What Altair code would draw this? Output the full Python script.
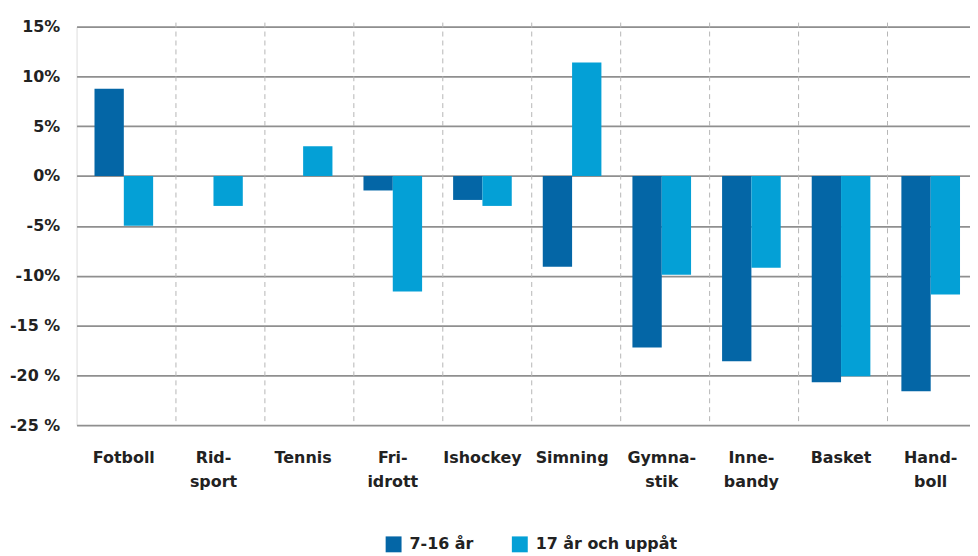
import altair as alt
import pandas as pd

categories = ["Fotboll", "Rid-sport", "Tennis", "Fri-idrott", "Ishockey",
              "Simning", "Gymna-stik", "Inne-bandy", "Basket", "Hand-boll"]
series = ["7-16 år", "17 år och uppåt"]
young = [8.75, 0.0, 0.0, -1.45, -2.4, -9.1, -17.2, -18.6, -20.7, -21.6]
older = [-5.0, -3.0, 3.0, -11.6, -3.0, 11.4, -9.9, -9.2, -20.1, -11.9]
colors = ["#0466a6", "#04a0d6"]
y_ticks = [15, 10, 5, 0, -5, -10, -15, -20, -25]

rows = []
for c, a, b in zip(categories, young, older):
    rows.append({"cat": c, "serie": series[0], "v": a})
    rows.append({"cat": c, "serie": series[1], "v": b})
df = pd.DataFrame(rows)
sep = pd.DataFrame({"cat": categories[1:]})

W, H = 899, 401
FONT = "DejaVu Sans"
TXT = "#222222"

xscale = alt.Scale(domain=categories, range=[0, 907], paddingInner=0.346, paddingOuter=0.2)
sepscale = alt.Scale(domain=categories, range=[10.5, 905.5], paddingInner=0, paddingOuter=0)
xaxis = alt.Axis(labelAngle=0, labelFontSize=16, labelFont=FONT, labelFontWeight="bold",
                 labelColor=TXT, labelPadding=25, labelBaseline="top",
                 labelLineHeight=24, domain=False, ticks=False, grid=False,
                 labelExpr="split(replace(datum.label, '-', '-|'), '|')")

rules = alt.Chart(sep).mark_rule(color="#b5b5b5", strokeWidth=1, strokeDash=[5, 4]).encode(
    x=alt.X("cat:N", scale=sepscale, sort=categories, bandPosition=0, title=None, axis=None),
    y=alt.value(-4),
    y2=alt.value(H),
)

bars = alt.Chart(df).mark_bar().encode(
    x=alt.X("cat:N", scale=xscale, sort=categories, title=None, axis=xaxis),
    xOffset=alt.XOffset("serie:N", sort=series, scale=alt.Scale(domain=series)),
    y=alt.Y("v:Q", scale=alt.Scale(domain=[-25, 15], nice=False), title=None,
            axis=alt.Axis(values=y_ticks, labelFontSize=16, labelFont=FONT, labelFontWeight="bold",
                          labelColor=TXT, labelPadding=17, domain=False, ticks=False,
                          grid=True, gridColor="#8f8f8f", gridWidth=1.8,
                          labelExpr="datum.value <= -15 ? datum.value + ' %' : datum.value + '%'")),
    color=alt.Color("serie:N", sort=series, scale=alt.Scale(domain=series, range=colors),
                    legend=alt.Legend(title=None, orient="none", legendX=311, legendY=513,
                                      direction="horizontal", symbolType="square", symbolSize=256,
                                      symbolStrokeWidth=0, labelFontSize=16, labelFont=FONT,
                                      labelFontWeight="bold", labelColor=TXT, labelOffset=8,
                                      columnPadding=38, padding=0)),
)

chart = alt.layer(rules, bars).resolve_scale(x="independent").properties(
    width=W, height=H,
    autosize=alt.AutoSizeParams(type="none"),
    padding={"left": 69, "top": 17, "right": 0, "bottom": 128},
).configure_view(stroke=None).configure(background="white")

chart.save("out.html", embed_options={"renderer": "svg", "actions": False})
